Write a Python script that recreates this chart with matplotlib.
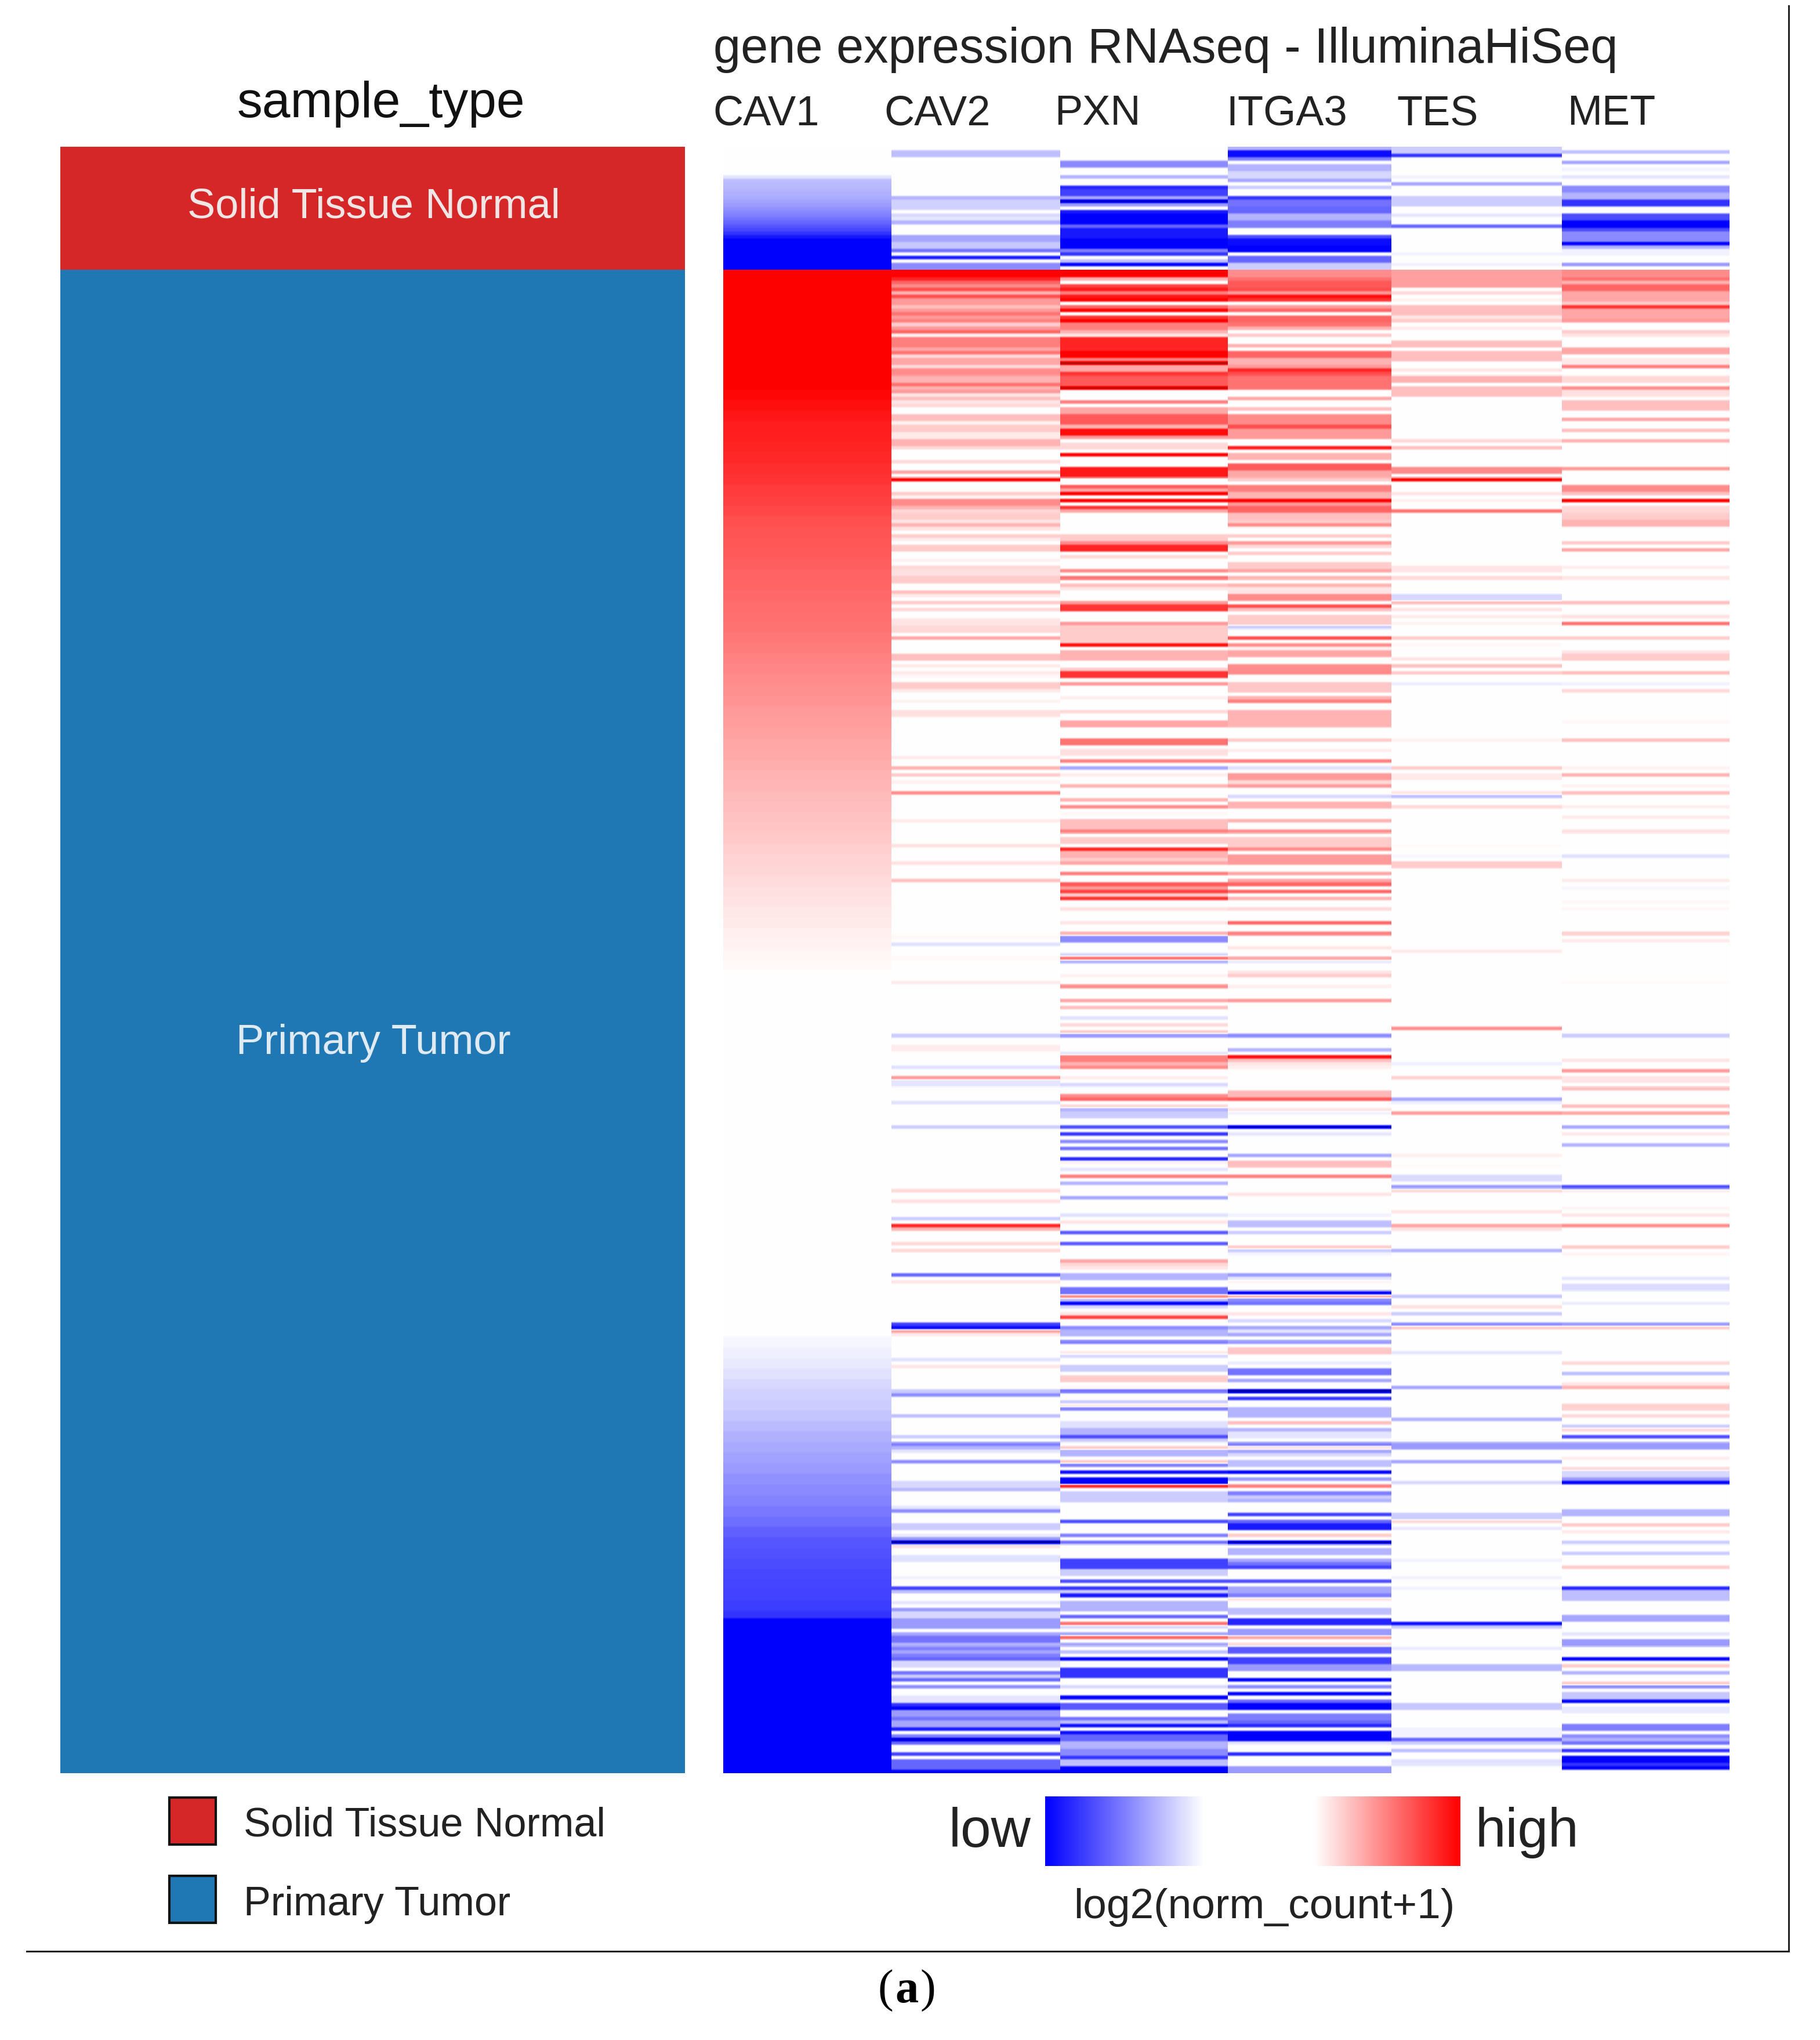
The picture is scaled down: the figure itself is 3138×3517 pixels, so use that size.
import numpy as np
import matplotlib
matplotlib.use("Agg")
import matplotlib.pyplot as plt
from matplotlib.colors import LinearSegmentedColormap, Normalize

W, H = 3138, 3517
N_ROWS = 462

sample_types = ["Solid Tissue Normal", "Primary Tumor"]
sample_counts = [35, 427]
sample_colors = ["#d62728", "#1f77b4"]
genes = ["CAV1", "CAV2", "PXN", "ITGA3", "TES", "MET"]

# CAV1 is the sort key, so it is read as runs of levels: (first row, rows per level, levels)
CAV1_normal = [-.1, -.25, -.27, -.28, -.3, -.31, -.33, -.36, -.39, -.42, -.46, -.5, -.55, -.6, -.66, -.72, -.8, -.9]
CAV1_normal_low = [-1] * 9
CAV1_tumor_high = [1] * 34
CAV1_tumor = [.97, .94, .91, .88, .87, .85, .84, .82, .8, .77, .75, .72, .69, .67, .66, .645, .63, .615, .6, .59,
              .575, .56, .55, .53, .51, .49, .47, .45, .435, .42, .4, .385, .37, .35, .335, .32, .3, .285, .27,
              .255, .24, .225, .21, .19, .175, .16, .145, .125, .11, .095, .08, .065, .05, .035, .02]
CAV1_tumor_low = [-.03, -.06, -.08, -.11, -.15, -.18, -.2, -.23, -.27, -.31, -.34, -.37, -.4, -.43, -.45, -.48,
                  -.52, -.56, -.62, -.66, -.68, -.7, -.72, -.73, -.74, -.76]
CAV1_tumor_lowest = [-.8] * 2 + [-1] * 44
CAV1_runs = [(8, 1, CAV1_normal), (26, 1, CAV1_normal_low), (35, 1, CAV1_tumor_high), (69, 3, CAV1_tumor),
             (338, 3, CAV1_tumor_low), (416, 1, CAV1_tumor_lowest)]

# every band: (first row, number of rows, scaled expression); rows not listed are 0
CAV2 = [(1,2,-.25),(14,1,-.3),(15,3,-.18),(19,1,-.15),(20,1,-.1),(21,1,-.3),(25,2,-.35),(27,2,-.22),
        (29,1,-.55),(31,1,-.9),(33,2,-.45),
        (35,2,1),(37,1,.85),(38,1,.6),(39,1,.45),(40,1,.7),(41,1,.3),(42,1,.7),(43,2,.4),(45,1,.25),
        (46,1,.4),(47,1,.55),(48,1,.4),(49,1,.5),(50,1,.2),(51,1,.4),(52,1,.6),(53,1,.05),(54,1,.5),
        (55,2,.5),(57,1,.35),(58,1,.55),(59,1,.15),(60,1,.35),(61,1,.35),(62,1,.15),(63,2,.45),
        (65,2,.3),(67,1,.55),(68,1,.3),(69,1,.4),(70,1,.1),(71,1,.25),(72,1,.1),(73,1,.15),
        (76,2,.25),(78,1,.05),(79,2,.2),(81,2,.08),(83,2,.3),(85,1,.15),(89,1,.15),(92,1,.35),
        (94,1,1),(98,1,.2),(99,1,.05),(100,2,.45),(102,1,.3),(103,1,.15),(104,2,.2),(106,1,.1),
        (107,1,.3),(108,1,.1),(110,1,.2),(111,1,.08),
        (113,2,.2),(117,1,.05),(119,1,.15),(120,2,.12),(122,2,.2),(126,1,.25),(127,1,.08),(129,1,.2),
        (131,1,.15),(134,2,.1),(136,2,.15),(139,1,.35),(144,2,.25),(147,1,.08),(149,1,.08),(150,1,.03),
        (152,2,.2),(154,1,.08),(157,1,.05),(160,2,.12),(173,1,.08),(176,1,.3),(178,1,.2),(180,1,.05),
        (183,1,.45),(191,1,.08),(198,1,.12),(203,1,.12),(208,1,.25),(224,1,.03),(226,1,-.12),
        (230,1,.03),(237,1,.08),(252,1,-.2),(255,2,.07),(261,1,-.12),(264,1,.4),(265,2,-.1),(271,1,-.12),
        (278,1,-.2),(296,1,.15),(299,1,.12),(304,1,-.2),(306,1,.85),(307,1,.3),(311,1,.15),(313,1,.15),
        (320,1,-.6),(322,1,.1),(334,1,-.75),(335,1,-.95),(336,1,.35),(337,1,.08),
        (344,1,-.12),(346,1,.1),(353,1,-.2),(354,1,-.45),(360,1,-.25),(366,1,-.2),(368,1,-.5),(369,1,-.3),
        (370,1,-.1),(373,1,-.45),(379,2,-.15),(381,1,-.28),(386,1,-.1),(387,1,-.45),(391,2,-.2),(394,1,-.08),
        (395,1,-.4),(396,1,-1.2),(397,1,.12),(400,2,-.12),(406,1,-.05),(409,1,-.75),(410,1,-.25),(413,1,-.1),
        (415,1,-.4),(416,2,-.15),(418,3,-.4),(422,1,-.35),(423,2,-.55),(425,1,-.3),(426,1,-.5),(427,1,-.35),
        (428,1,-.5),(429,1,-.6),(430,2,-.15),(433,1,-.55),(434,1,-.2),(435,1,-.6),(437,1,-.45),(440,2,-.1),
        (442,1,-.8),(443,1,-1),(444,2,-.4),(446,1,-.55),(447,2,-.35),(449,1,-.9),(451,1,-.5),(452,1,-1.1),
        (453,1,-.6),(456,1,-.75),(458,3,-.6),(461,1,-1)]

PXN = [(4,2,-.45),(8,1,-.3),(11,1,-.85),(12,2,-.75),(14,1,-.35),(15,1,-1.1),(16,1,-.4),(18,1,-.9),(19,3,-1),
       (22,1,-.6),(23,3,-.9),(26,3,-1),(29,1,-.5),(30,1,-.8),(32,1,-.25),(33,1,-1),
       (35,2,1),(37,1,.3),(39,1,.75),(40,1,.9),(41,1,.5),(42,1,.9),(43,1,1),(45,1,.6),(46,1,1),(48,1,.8),
       (49,1,1),(50,2,.5),(52,1,.3),(53,1,.1),(54,1,.85),(55,3,.85),(58,2,1),(60,1,.5),(61,1,1.2),(62,2,.35),
       (64,1,.8),(65,3,.65),(68,1,1.15),(72,1,.5),(74,2,.35),(76,3,.65),(79,1,.3),(80,2,.95),(82,1,.4),
       (84,2,.15),(87,1,1),(91,3,.9),(96,1,.65),(97,1,.35),(98,1,1),(100,1,1),(102,1,.8),(103,1,.35),
       (110,2,.2),(112,1,.45),
       (113,2,.85),(116,1,.15),(120,1,.45),(122,1,.55),(124,1,.25),(125,1,.1),(129,1,.4),(130,2,.8),(135,1,.4),
       (136,5,.2),(141,1,.95),(143,3,.3),(148,1,.2),(149,2,.8),(152,1,.4),(156,1,.06),(160,1,.15),(163,2,.35),
       (168,2,.55),(171,2,.12),(174,1,.5),(176,1,-.35),(178,1,.07),(181,1,.3),(185,1,.3),(187,1,.45),(189,1,.03),
       (191,3,.25),(194,1,.5),(196,2,.2),(199,1,.85),(200,2,.3),(202,1,.2),(203,1,.35),(206,1,.5),(209,1,.65),
       (210,1,.4),(211,1,.75),(212,1,.2),(213,1,.8),(216,1,.12),(220,1,.1),(223,1,.3),(224,2,-.45),
       (229,1,-.15),(230,1,.55),(231,1,-.3),(235,1,.05),(238,1,.45),(242,1,.35),(244,1,.25),(247,1,-.12),
       (249,1,.15),(251,1,.2),(252,1,-.4),(257,1,-.1),(258,2,.5),(260,1,.3),(261,1,.45),(264,1,.07),(266,1,-.15),
       (269,1,.45),(270,1,.6),(272,1,.15),(273,1,-.3),(274,2,-.2),(278,1,-.7),(280,1,-.8),(282,1,-.45),(284,1,-.55),
       (287,1,-.85),(288,1,.05),(290,1,-.1),(292,1,.5),(294,1,-.3),(298,1,-.35),(303,1,-.12),(305,1,.1),(308,1,-.65),
       (311,1,-.65),(316,1,.35),(317,1,.15),(318,1,.1),(320,2,-.3),(324,2,-.55),(326,1,.45),(327,1,-.25),(328,1,-1),
       (329,1,-.15),(331,1,.1),(332,1,.75),(335,1,-.45),(336,2,-.3),(339,1,-.5),(342,1,.08),(343,1,-.15),
       (346,2,-.2),(349,2,.2),(352,1,.03),(353,1,-.55),(356,1,-.2),(357,1,.08),(358,1,-.5),(362,2,-.12),(364,2,-.3),
       (366,1,-.7),(367,1,-.2),(369,1,.2),(370,2,-.3),(373,1,.2),(374,1,-.5),(376,1,-.95),(378,2,-1),(380,1,.85),
       (382,3,-.2),(390,1,-.7),(394,1,-.5),(396,1,-.55),(401,3,-.75),(404,2,-.2),(407,1,-.7),(409,1,-.8),(410,1,-.2),
       (411,1,-.9),(413,3,-.3),(417,1,-.6),(419,1,.55),(420,1,-.15),(422,1,-.35),(423,1,.6),(425,1,-.35),(427,1,-.25),
       (429,1,-1),(432,3,-.8),(437,1,-.15),(440,1,-1),(442,2,-.65),(446,1,-.55),(447,1,-.25),(448,1,-.95),(450,1,-.95),
       (451,2,-.6),(453,2,-.3),(455,2,-.45),(457,1,-.8),(458,2,-.25),(460,2,-1)]

ITGA3 = [(0,1,-.3),(1,2,-.95),(3,1,-.5),(5,2,-.3),(7,2,-.15),(9,1,-.35),(11,1,-.2),(14,1,-.8),(15,2,-.55),(17,2,-.6),
         (19,2,-.3),(21,2,-.5),(25,1,-.7),(26,2,-.95),(28,2,-1),(31,2,-.6),(33,2,-.2),
         (35,2,.45),(37,1,.55),(38,2,.65),(40,1,.7),(41,1,.4),(42,1,.95),(43,1,.8),(45,1,.4),(46,1,.6),(48,2,.6),
         (50,1,.55),(51,1,.3),(53,1,.2),(56,1,.3),(58,2,.6),(60,2,.3),(62,1,.4),(63,1,.85),(64,1,.7),(65,4,.55),
         (71,1,.35),(74,1,.25),(76,3,.45),(79,1,.7),(80,3,.4),(85,1,.9),(87,2,.3),(90,2,.65),(92,2,.35),(94,1,.2),
         (96,2,.5),(98,2,.3),(100,1,1),(101,1,.4),(102,2,.6),(104,2,.25),(106,1,.2),(107,1,.45),(110,1,.2),(112,1,.4),
         (113,1,.15),(115,1,.2),(118,2,.2),(120,1,.35),(122,1,.3),(124,1,.3),(125,2,.1),(127,2,.45),(130,1,.7),(131,1,.25),
         (133,3,.2),(136,1,-.2),(139,1,.7),(141,1,.45),(142,1,.05),(143,2,.35),(147,3,.45),(152,3,.22),(156,1,.3),(157,1,.5),
         (160,5,.3),(168,1,.2),(171,1,.07),(174,1,.5),(176,1,-.12),(178,2,.4),(180,1,.15),(181,1,.4),(184,1,-.15),(186,2,.3),
         (191,1,.3),(194,1,.45),(196,3,.2),(199,1,.45),(201,2,.4),(203,1,.4),(206,1,.35),(208,1,.35),(209,1,.6),(211,1,.6),
         (213,1,.3),(216,1,.15),(220,1,.6),(223,1,.5),(227,1,.1),
         (230,1,.35),(231,1,-.08),(234,1,.1),(235,1,.2),(238,1,.06),(242,1,.4),(252,1,-.45),(256,1,-.3),(258,1,.95),(259,1,.25),
         (260,1,.1),(261,1,.06),(268,2,.28),(270,1,.65),(273,1,.1),(274,1,-.05),(278,1,-1.1),(280,1,-.1),(286,1,-.35),(288,2,.25),
         (292,1,.5),(297,1,.1),(303,1,-.05),(305,2,-.25),(308,1,-.2),(312,1,.2),(313,1,-.2),(314,1,-.04),(320,1,-.4),(321,1,-.1),
         (322,1,.04),(325,1,-1),(326,1,.3),(327,1,-.45),(328,1,-.55),(331,1,.1),(333,1,-.15),(335,1,-.35),(336,1,-.1),(337,1,-.35),
         (339,1,-.4),(341,2,.22),
         (345,1,-.07),(347,2,-.55),(350,1,-.35),(353,1,-1.2),(355,1,-.8),(358,3,-.3),(362,1,.25),(364,1,-.3),(365,2,-.1),(368,1,-.5),
         (369,1,.12),(370,1,-.35),(371,1,-.15),(373,2,-.25),(376,1,-1),(378,1,-.4),(380,1,.5),(382,1,-.5),(383,1,-.2),(384,1,-.3),
         (388,1,-.75),(390,1,-.6),(391,2,-.9),(394,1,.2),(396,1,-1.15),(398,2,-.3),(401,1,-.35),(402,1,-.55),(403,1,-.75),(407,1,-.7),
         (409,2,-.35),(411,1,-.5),(412,1,.1),(415,2,-.25),(418,2,-.85),(421,2,-.4),(423,1,.35),(425,1,.15),(426,2,-.65),(429,2,-.75),
         (431,2,-.4),(435,1,-1),(437,1,-.45),(439,1,-1),(441,1,-.6),(442,2,-1),(445,2,-.5),(447,1,-.6),(448,1,-.85),(450,3,-1),
         (453,1,-.1),(456,1,-.85),(460,2,-.4)]

TES = [(0,2,-.2),(2,1,-.8),(8,1,-.05),(10,1,-.35),(14,3,-.2),(19,1,-.1),(22,1,-.6),(30,1,-.05),(33,1,-.05),
       (35,5,.38),(41,1,.15),(43,1,.05),(45,3,.25),(48,1,.1),(49,1,.2),(51,1,.08),(55,1,.25),(56,1,.25),(58,3,.25),(63,1,.1),
       (65,2,.3),(68,3,.25),(83,1,.15),(85,1,.25),(91,2,.45),(94,1,1),(98,1,.1),(100,1,.05),(103,1,.55),
       (119,2,.1),(122,1,.15),(127,2,-.15),(129,1,.25),(131,1,.1),(133,1,.08),(135,1,.05),(139,1,.2),(141,1,.03),(145,1,.1),
       (147,1,.25),(149,1,.2),(152,1,-.07),(168,1,.05),(176,1,.2),(178,2,.08),(183,1,.1),(184,1,-.25),(187,1,.15),(198,1,.02),
       (201,1,-.03),(203,2,.2),
       (228,1,.08),(250,1,.45),(260,1,-.06),(264,1,.18),(270,1,-.35),(271,1,-.06),(274,1,.4),(286,1,.06),(289,1,.02),(292,2,-.14),
       (295,1,-.4),(296,1,.15),(302,1,.1),(306,1,.35),(307,1,.12),(313,1,-.3),(326,1,-.22),(329,1,.12),(331,1,-.2),(334,1,-.45),
       (335,1,.2),(342,1,-.1),
       (352,1,-.35),(361,1,-.3),(368,2,-.4),(373,1,-.35),(379,1,-.15),(388,2,-.2),(390,1,.15),(392,1,-.08),(401,1,-.05),(406,1,-.05),
       (409,1,-.05),(419,1,-.95),(420,1,-.2),(426,1,-.08),(431,2,-.28),(442,2,-.22),(449,3,-.05),(452,1,-.6),(453,1,-.2),(455,1,-.25),
       (458,1,-.12),(459,1,-.1)]

MET = [(1,1,-.25),(4,1,-.35),(6,1,-.05),(8,1,-.1),(11,2,-.45),(13,2,-.3),(15,2,-.8),(19,2,-.7),(21,2,-1),(23,1,-.7),(24,3,-.45),
       (27,1,-1),(28,1,-.3),(29,2,-.05),(33,1,-.4),
       (35,2,.45),(37,1,.55),(38,1,.3),(39,2,.6),(41,3,.35),(44,1,.2),(45,1,.8),(46,3,.35),(49,1,.4),(52,1,.2),(53,1,.1),(57,2,.35),
       (60,2,.08),(62,1,.5),(65,2,.15),(68,1,.45),(69,2,.12),(72,3,.25),(77,1,.35),(80,1,.25),(83,1,.3),(91,1,.4),(96,2,.45),
       (98,1,.25),(100,1,1),(102,2,.15),(104,2,.2),(106,2,.3),(112,1,.2),
       (114,1,.35),(119,1,.07),(122,1,.1),(129,1,.25),(133,1,.12),(135,1,.55),(139,1,.2),(143,1,.1),(144,2,.2),(149,1,.25),(152,1,-.05),
       (154,1,.15),(163,1,.03),(168,1,.25),(176,1,.05),(178,1,.3),(181,1,.05),(183,1,.25),(187,1,.07),(190,1,.08),(194,1,.12),
       (201,1,-.12),(208,1,.08),(210,1,-.03),(214,1,.03),(216,1,.03),(223,1,.18),(225,1,.08),
       (237,1,.02),(252,1,-.2),(259,1,.1),(262,1,.4),(264,2,.1),(267,1,.25),(272,1,.25),(274,1,.35),(278,1,-.35),(280,1,.08),(283,1,-.3),
       (295,1,-.7),(296,1,.07),(301,1,.04),(303,1,.1),(306,1,.45),(312,1,.2),(314,1,.04),(321,1,-.1),(323,2,-.14),(328,1,-.07),
       (334,1,-.4),(335,1,.2),
       (345,1,.15),(348,1,-.25),(351,1,.1),(352,1,.3),(357,2,.18),(360,1,.15),(363,1,-.2),(364,1,.15),(366,1,-.7),(368,2,-.4),(372,1,.07),
       (375,1,.15),(376,2,-.15),(378,1,-.4),(379,1,-1),(387,2,-.3),(391,1,.2),(393,1,.08),(396,1,-.2),(399,1,-.2),(403,1,.2),(409,1,-.85),
       (410,1,-.25),(411,2,-.25),(417,2,-.35),(422,1,-.1),(424,2,-.4),(429,1,-1),(431,1,.2),(433,1,-.3),(436,1,.2),(437,1,-.45),(439,2,-.22),
       (441,1,-1),(443,2,-.08),(448,2,-.5),(451,1,-.45),(452,1,-.3),(453,1,-.55),(455,1,-.8),(457,2,-1),(459,1,-.8),(460,1,-1)]

gene_bands = [CAV2, PXN, ITGA3, TES, MET]
col_edges = [0, 1.003, 2.01, 3.01, 3.985, 5, 6]  # gene columns are not quite equal in width


def expand(bands):
    col = np.zeros(N_ROWS)
    for start, n, v in bands:
        col[start:start + n] = v
    return col


def expand_runs(runs):
    col = np.zeros(N_ROWS)
    for start, step, levels in runs:
        for i, v in enumerate(levels):
            col[start + i * step:start + (i + 1) * step] = v
    return col


def soften(block, sub=6):
    # the reference's rows are soft, so each row is slightly smeared along y when drawn
    kernel = np.array([1, 2, 3, 2, 1]) / 9
    pad = np.pad(np.repeat(block, sub, axis=0), ((2, 2), (0, 0)), mode="edge")
    return np.column_stack([np.convolve(pad[:, j], kernel, mode="valid") for j in range(pad.shape[1])])


def box(x0, y0, x1, y1):
    return [x0 / W, 1 - y1 / H, (x1 - x0) / W, (y1 - y0) / H]


def put(x, y, s, **kw):
    kw.setdefault("family", "Liberation Sans")
    kw.setdefault("color", "#111111")
    kw.setdefault("va", "baseline")
    fig.text(x / W, 1 - y / H, s, **kw)


fig = plt.figure(figsize=(W / 100, H / 100), dpi=100, facecolor="white")

# sample_type annotation bar
ax_s = fig.add_axes(box(104, 253, 1181, 3057))
top = 0
for count, color in zip(sample_counts, sample_colors):
    ax_s.barh(top + count / 2, 1, height=count, color=color, linewidth=0)
    top += count
ax_s.set_xlim(0, 1)
ax_s.set_ylim(N_ROWS, 0)
ax_s.axis("off")

# heat map: the normal and tumour groups are softened apart so no pale seam appears between them
heat_cmap = LinearSegmentedColormap.from_list(
    "bwr_dark",
    [(0, "#000080"), (0.25 / 2.5, "#0000ff"), (0.5, "#ffffff"), (2.25 / 2.5, "#ff0000"), (1, "#a01010")],
)
matrix = np.column_stack([expand_runs(CAV1_runs)] + [expand(b) for b in gene_bands])
SUB = 6
split = sample_counts[0]
soft = np.vstack([soften(matrix[:split], SUB), soften(matrix[split:], SUB)])
ax_h = fig.add_axes(box(1247, 253, 2982, 3057))
ax_h.pcolormesh(col_edges, np.arange(N_ROWS * SUB + 1) / SUB, soft, cmap=heat_cmap,
                norm=Normalize(-1.25, 1.25), shading="flat", linewidth=0, antialiased=False)
ax_h.set_xlim(0, 6)
ax_h.set_ylim(N_ROWS, 0)
ax_h.axis("off")

# headers
put(657, 202, "sample_type", fontsize=63, ha="center")
put(1230, 108, "gene expression RNAseq - IlluminaHiSeq", fontsize=61, color="#222222")
for gene, x in zip(genes, [1229, 1524, 1818, 2114, 2408, 2702]):
    put(x, 215, gene, fontsize=52, color="#222222")

# labels inside the bar
put(644, 375, sample_types[0], fontsize=52, ha="center", color="#f0e6e6")
put(644, 1817, sample_types[1], fontsize=52, ha="center", color="#dfeaf2")

# category legend
ax_l = fig.add_axes([0, 0, 1, 1], facecolor="none")
ax_l.set_xlim(0, W)
ax_l.set_ylim(H, 0)
ax_l.axis("off")
for color, y0, label, base in zip(sample_colors, [3099, 3234], sample_types, [3166, 3302]):
    ax_l.add_patch(plt.Rectangle((292, y0), 80, 81, facecolor=color, edgecolor="#111111", linewidth=3))
    put(420, base, label, fontsize=50.5, color="#222222")

# colour legend
bar_cmap = LinearSegmentedColormap.from_list(
    "legend", [(0, "#0000ff"), (0.38, "#ffffff"), (0.65, "#ffffff"), (1, "#ff0000")]
)
ax_c = fig.add_axes(box(1802, 3097, 2518, 3217))
ax_c.imshow(np.linspace(0, 1, 256)[None, :], aspect="auto", cmap=bar_cmap)
ax_c.axis("off")
put(1778, 3184, "low", fontsize=68, ha="right", color="#222222")
put(2544, 3184, "high", fontsize=68, color="#222222")
put(1851, 3307, "log2(norm_count+1)", fontsize=52.7, color="#222222")

# panel rules and tag
ax_l.plot([46, 3084, 3084], [3364, 3364, 10], color="#222222", linewidth=2.2, solid_joinstyle="miter")
put(1540, 3452, "(", fontsize=58, family="Liberation Serif", ha="right", color="black")
put(1563, 3452, "a", fontsize=58, family="Liberation Serif", weight="bold", ha="center", color="black")
put(1586, 3452, ")", fontsize=58, family="Liberation Serif", ha="left", color="black")

fig.savefig("out.png", dpi=100, facecolor="white")
